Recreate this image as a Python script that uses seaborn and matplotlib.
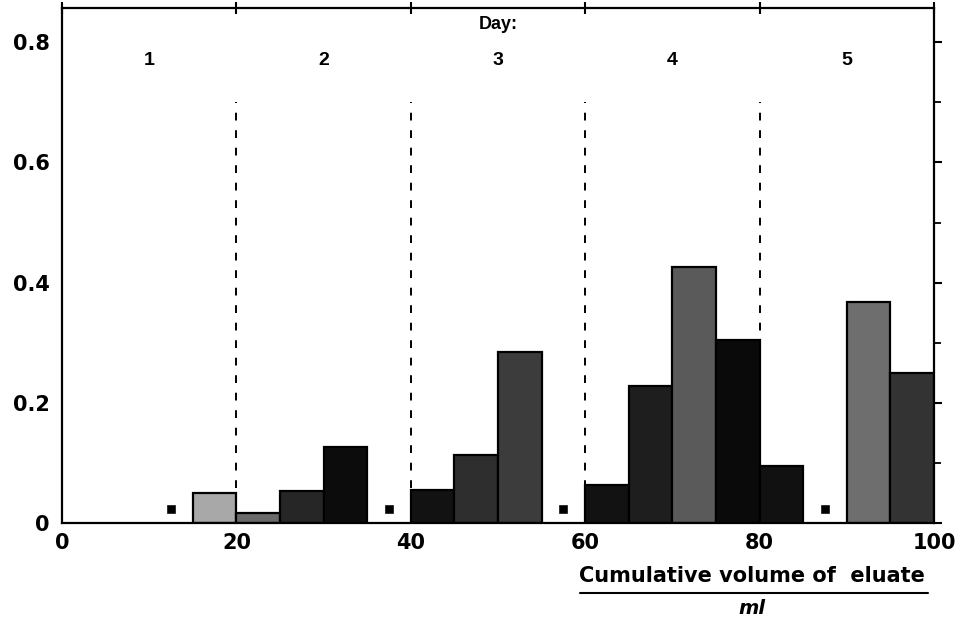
import numpy as np
import pandas as pd
import matplotlib
matplotlib.use("Agg")
import matplotlib.pyplot as plt
import seaborn as sns
from matplotlib.ticker import MultipleLocator

# ---- data ----
bin_start = [15, 20, 25, 30, 40, 45, 50, 60, 65, 70, 75, 80, 90, 95]
fraction = [0.050, 0.017, 0.053, 0.126, 0.055, 0.113, 0.285,
            0.063, 0.228, 0.426, 0.305, 0.095, 0.368, 0.250]
star_x = [12.5, 37.5, 57.5, 87.5]
star_y = [0.023, 0.023, 0.023, 0.023]
day_labels = ["1", "2", "3", "4", "5"]
day_x = [10, 30, 50, 70, 90]
day_bounds = [20, 40, 60, 80]
x_ticks = [0, 20, 40, 60, 80, 100]
y_ticks = [0, 0.2, 0.4, 0.6, 0.8]
y_tick_labels = ["0", "0.2", "0.4", "0.6", "0.8"]

# shade of each bar (scanned halftone look), keyed by bin start
shade = {15: "#a8a8a8", 20: "#6a6a6a", 25: "#262626", 30: "#0c0c0c",
         40: "#121212", 45: "#2e2e2e", 50: "#3c3c3c", 60: "#121212",
         65: "#1e1e1e", 70: "#5a5a5a", 75: "#0a0a0a", 80: "#111111",
         90: "#6e6e6e", 95: "#333333"}

df = pd.DataFrame({"mid": np.array(bin_start, dtype=float) + 2.5,
                   "frac": fraction})

sns.set_style("white")
plt.rcParams["font.family"] = ["DejaVu Sans"]
plt.rcParams["text.color"] = "black"
plt.rcParams["xtick.color"] = "black"
plt.rcParams["ytick.color"] = "black"
plt.rcParams["xtick.labelcolor"] = "black"
plt.rcParams["ytick.labelcolor"] = "black"

fig = plt.figure(figsize=(9.62, 6.19), dpi=100)
ax = fig.add_axes([0.0645, 0.155, 0.9065, 0.832])

sns.histplot(data=df, x="mid", weights="frac", binwidth=5, binrange=(0, 100),
             ax=ax, stat="count", element="bars", fill=True,
             edgecolor="black", linewidth=1.6, alpha=1, color="#333333")

for p in ax.patches:
    x0 = int(round(p.get_x()))
    if p.get_height() <= 0:
        p.set_visible(False)
        continue
    p.set_facecolor(shade.get(x0, "#333333"))
    p.set_edgecolor("black")

# asterisks
sns.scatterplot(x=star_x, y=star_y, ax=ax, marker="s", s=30,
                color="black", edgecolor="black", legend=False)

# day boundaries
for xb in day_bounds:
    ax.plot([xb, xb], [0, 0.70], color="black", lw=1.4,
            linestyle=(0, (4, 5)), zorder=0.5)

# day labels
ax.text(50, 0.83, "Day:", ha="center", va="center", fontsize=13,
        fontweight="bold", family="Liberation Sans", color="black")
for lab, xx in zip(day_labels, day_x):
    ax.text(xx, 0.77, lab, ha="center", va="center", fontsize=14,
            fontweight="bold", family="Liberation Sans", color="black")

ax.set_xlim(0, 100)
ax.set_ylim(0, 0.857)
ax.set_xticks(x_ticks)
ax.set_xticklabels([str(v) for v in x_ticks])
ax.xaxis.set_minor_locator(MultipleLocator(5))
ax.set_yticks(y_ticks)
ax.set_yticklabels(y_tick_labels)
ax.yaxis.set_minor_locator(MultipleLocator(0.1))

ax.tick_params(axis="both", which="major", direction="out", length=6,
               width=1.5, labelsize=15, pad=3, color="black",
               labelcolor="black")
ax.tick_params(axis="both", which="minor", direction="out", length=5,
               width=1.3, color="black")
ax.tick_params(axis="y", which="both", right=True, labelright=False)
ax.tick_params(axis="x", which="major", top=True, labeltop=False)
ax.tick_params(axis="x", which="major", direction="inout", length=8)
for lab in ax.get_xticklabels() + ax.get_yticklabels():
    lab.set_fontweight("bold")
    lab.set_color("black")

for s in ax.spines.values():
    s.set_visible(True)
    s.set_color("black")
    s.set_linewidth(1.6)

ax.set_xlabel("")
ax.set_ylabel("")

# axis title with fraction bar
ax.text(0.791, -0.103, "Cumulative volume of  eluate", transform=ax.transAxes,
        ha="center", va="center", fontsize=15, fontweight="bold",
        color="black")
ax.plot([0.594, 0.993], [-0.135, -0.135], transform=ax.transAxes,
        color="black", lw=1.5, clip_on=False)
ax.text(0.791, -0.165, "ml", transform=ax.transAxes, ha="center",
        va="center", fontsize=14, fontweight="bold", style="italic",
        color="black")

fig.savefig("out.png", dpi=100)
